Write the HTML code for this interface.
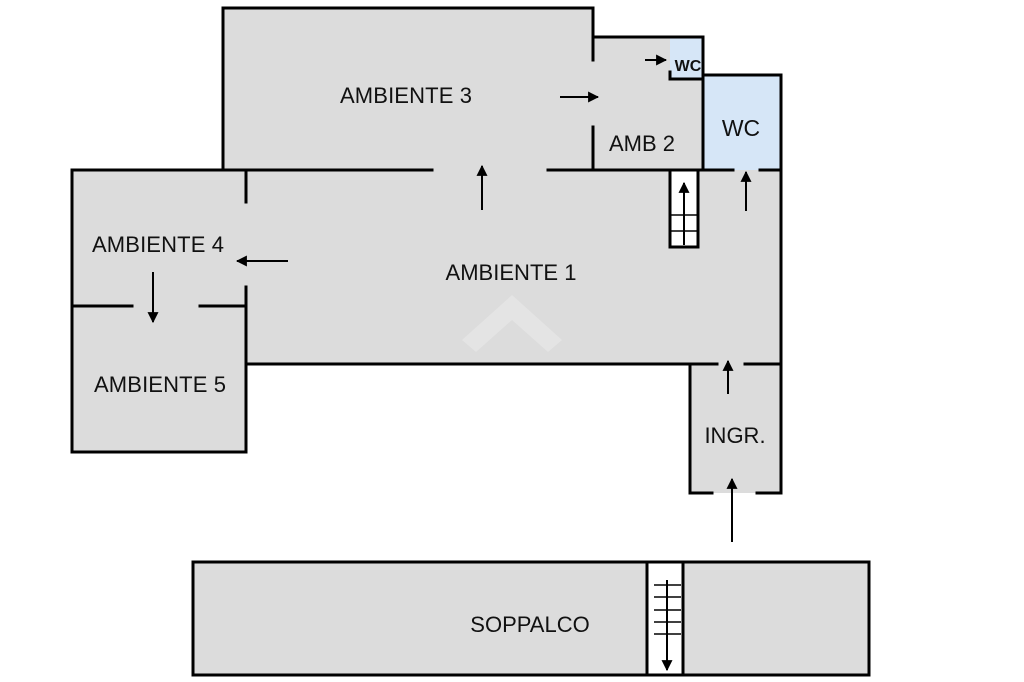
<!DOCTYPE html>
<html><head><meta charset="utf-8"><style>
html,body{margin:0;padding:0;background:#fff}
svg{display:block}
text{font-family:"Liberation Sans",Arial,sans-serif;fill:#111}
</style></head><body>
<svg width="1024" height="682" viewBox="0 0 1024 682" xmlns="http://www.w3.org/2000/svg">
<defs>
<marker id="ah" viewBox="0 0 10 10" refX="9" refY="5" markerWidth="5.5" markerHeight="5.5" orient="auto"><path d="M0,0 L10,5 L0,10 z" fill="#000"/></marker>
</defs>
<g stroke="none">
<rect x="223" y="8" width="370" height="162" fill="#dcdcdc"/>
<rect x="593" y="37" width="110" height="133" fill="#dcdcdc"/>
<rect x="670" y="37" width="33" height="42" fill="#d6e6f7"/>
<rect x="703" y="75" width="78" height="95" fill="#d6e6f7"/>
<rect x="246" y="170" width="535" height="194" fill="#dcdcdc"/>
<rect x="72" y="170" width="174" height="282" fill="#dcdcdc"/>
<rect x="690" y="364" width="91" height="129" fill="#dcdcdc"/>
<rect x="193" y="562" width="676" height="113" fill="#dcdcdc"/>
<rect x="670" y="170" width="28" height="77" fill="#fff"/>
<rect x="647" y="562" width="36" height="113" fill="#fff"/>
</g>
<path d="M462,340 L512,295 L562,340 L548,352 L512,320 L476,352 z" fill="#e4e4e4"/>
<g stroke="#000" stroke-width="3" fill="none" stroke-linecap="square">
<path d="M223,170 L223,8 L593,8 L593,60"/>
<path d="M593,127 L593,170"/>
<path d="M593,37 L703,37 L703,170"/>
<path d="M670,72 L670,79 L703,79"/>
<path d="M703,75 L781,75 L781,493 L757,493"/>
<path d="M712,493 L690,493 L690,364 L246,364 L246,287"/>
<path d="M246,202 L246,170"/>
<path d="M745,364 L781,364"/>
<path d="M690,364 L717,364"/>
<path d="M72,170 L432,170"/>
<path d="M548,170 L733,170"/>
<path d="M760,170 L781,170"/>
<path d="M72,170 L72,452 L246,452 L246,364"/>
<path d="M72,306 L132,306"/>
<path d="M200,306 L246,306"/>
<rect x="670" y="170" width="28" height="77"/>
<rect x="193" y="562" width="676" height="113"/>
<rect x="647" y="562" width="36" height="113"/>
</g>
<g stroke="#000" stroke-width="1.5">
<line x1="670" y1="215" x2="698" y2="215"/>
<line x1="670" y1="231" x2="698" y2="231"/>
<line x1="654" y1="585" x2="681" y2="585"/>
<line x1="654" y1="597" x2="681" y2="597"/>
<line x1="654" y1="610" x2="681" y2="610"/>
<line x1="654" y1="622" x2="681" y2="622"/>
<line x1="654" y1="634" x2="681" y2="634"/>
</g>
<g stroke="#000" stroke-width="2" marker-end="url(#ah)">
<line x1="684" y1="245" x2="684" y2="183"/>
<line x1="667" y1="580" x2="667" y2="670"/>
<line x1="560" y1="97" x2="598" y2="97"/>
<line x1="645" y1="60" x2="666" y2="60"/>
<line x1="482" y1="210" x2="482" y2="166"/>
<line x1="746" y1="211" x2="746" y2="172"/>
<line x1="288" y1="261" x2="237" y2="261"/>
<line x1="153" y1="272" x2="153" y2="322"/>
<line x1="728" y1="394" x2="728" y2="361"/>
<line x1="732" y1="542" x2="732" y2="479"/>
</g>
<text x="406" y="103" font-size="22" text-anchor="middle" textLength="132">AMBIENTE 3</text>
<text x="642" y="151" font-size="22" text-anchor="middle">AMB 2</text>
<text x="688" y="71" font-size="16" font-weight="bold" text-anchor="middle">WC</text>
<text x="741" y="136" font-size="23" text-anchor="middle">WC</text>
<text x="511" y="280" font-size="22" text-anchor="middle" textLength="131">AMBIENTE 1</text>
<text x="158" y="252" font-size="22" text-anchor="middle" textLength="132">AMBIENTE 4</text>
<text x="160" y="392" font-size="22" text-anchor="middle" textLength="132">AMBIENTE 5</text>
<text x="735" y="443" font-size="22" text-anchor="middle">INGR.</text>
<text x="530" y="632" font-size="22" text-anchor="middle">SOPPALCO</text>
</svg>
</body></html>
